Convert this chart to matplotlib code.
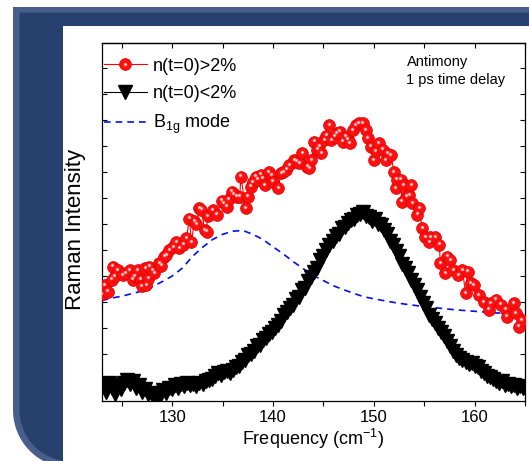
import numpy as np
import matplotlib
matplotlib.use('Agg')
import matplotlib.pyplot as plt
import matplotlib.transforms as mtransforms
from matplotlib.patches import Polygon, Rectangle
from matplotlib.lines import Line2D
from matplotlib.legend_handler import HandlerTuple
from matplotlib.ticker import MultipleLocator

plt.rcParams['font.family'] = ['Liberation Sans', 'DejaVu Sans']
plt.rcParams['mathtext.fontset'] = 'custom'
plt.rcParams['mathtext.rm'] = 'Liberation Sans'
plt.rcParams['mathtext.it'] = 'Liberation Sans:italic'

# ---- data (arbitrary intensity units) ----
red_x = [123.0, 123.3, 123.6, 124.0, 124.1, 124.3, 124.6, 125.1, 125.4, 125.8,
         126.1, 126.3, 126.6, 126.9, 127.0, 127.3, 127.4, 127.6, 127.7, 128.0,
         128.2, 128.7, 128.9, 129.2, 129.4, 129.7, 130.1, 130.4, 130.7, 131.1,
         131.4, 131.7, 131.9, 132.2, 132.4, 132.7, 132.9, 133.2, 133.4, 133.5,
         134.0, 134.4, 134.9, 135.1, 135.4, 135.6, 135.9, 136.1, 136.4, 136.7,
         136.8, 137.3, 137.5, 137.8, 138.0, 138.3, 138.5, 138.8, 139.0, 139.2,
         139.6, 139.9, 140.0, 140.5, 140.8, 141.0, 141.3, 141.6, 142.1, 142.3,
         142.6, 142.9, 143.4, 143.6, 143.8, 144.1, 144.4, 144.6, 144.8, 145.1,
         145.3, 145.6, 145.8, 146.1, 146.3, 146.6, 146.9, 147.2, 147.4, 147.6,
         147.9, 148.2, 148.5, 148.9, 149.2, 149.4, 149.7, 150.0, 150.2, 150.5,
         150.9, 151.2, 151.4, 151.7, 152.0, 152.2, 152.3, 152.7, 152.8, 153.0,
         153.2, 153.5, 153.7, 153.8, 154.3, 154.5, 154.8, 155.1, 155.5, 155.6,
         156.1, 156.5, 156.6, 157.1, 157.3, 157.6, 157.9, 158.4, 158.8, 159.1,
         159.3, 159.6, 159.9, 160.4, 160.9, 161.4, 161.6, 162.1, 162.6, 163.1,
         163.2, 163.9, 164.1, 164.4, 164.7]
red_y = [3.30, 3.65, 3.40, 3.85, 4.36, 4.00, 4.23, 4.04, 4.10, 4.23,
         3.85, 4.00, 4.23, 3.85, 3.60, 4.30, 3.65, 3.90, 4.36, 4.20,
         4.10, 4.50, 4.40, 4.74, 4.80, 5.00, 5.10, 5.30, 5.07, 5.20,
         5.45, 6.20, 5.30, 6.10, 6.00, 6.60, 6.55, 5.77, 5.70, 6.30,
         6.54, 6.35, 6.90, 6.80, 6.67, 6.95, 7.24, 7.15, 7.05, 7.05,
         7.82, 6.60, 7.05, 7.43, 7.60, 7.82, 7.70, 7.90, 7.75, 7.50,
         8.00, 7.85, 7.63, 7.37, 7.95, 8.00, 8.08, 8.27, 8.46, 8.40,
         8.33, 8.72, 8.20, 8.14, 8.46, 9.17, 8.85, 9.00, 8.72, 9.23,
         9.40, 9.80, 9.23, 9.36, 9.50, 9.55, 9.17, 9.36, 9.25, 9.10,
         9.60, 9.80, 9.87, 9.87, 9.60, 9.30, 8.97, 8.46, 8.80, 9.10,
         8.85, 8.46, 8.70, 8.65, 8.00, 7.37, 7.70, 7.70, 6.86, 7.50,
         7.05, 7.10, 7.50, 6.80, 6.35, 6.60, 5.83, 5.50, 5.30, 5.50,
         5.50, 5.20, 4.50, 4.10, 4.74, 4.60, 4.23, 4.04, 4.23, 3.33,
         4.17, 3.72, 3.65, 3.27, 3.00, 2.70, 2.96, 3.08, 2.90, 2.70,
         2.43, 2.95, 2.56, 2.05, 2.30]

blk_x = [123.1, 123.4, 123.7, 124.0, 124.3, 124.6, 124.9, 125.2, 125.5, 125.8,
         126.1, 126.4, 126.7, 127.0, 127.3, 127.6, 127.9, 128.2, 128.5, 128.8,
         129.1, 129.4, 129.7, 130.0, 130.3, 130.6, 130.9, 131.2, 131.5, 131.8,
         132.1, 132.4, 132.7, 133.0, 133.3, 133.6, 133.9, 134.2, 134.5, 134.8,
         135.1, 135.4, 135.7, 136.0, 136.3, 136.6, 136.9, 137.2, 137.5, 137.8,
         138.1, 138.4, 138.7, 139.0, 139.3, 139.6, 139.9, 140.2, 140.5, 140.8,
         141.1, 141.4, 141.7, 142.0, 142.3, 142.6, 142.9, 143.2, 143.5, 143.8,
         144.1, 144.4, 144.7, 145.0, 145.3, 145.6, 145.9, 146.2, 146.5, 146.8,
         147.1, 147.4, 147.7, 148.0, 148.3, 148.6, 148.9, 149.2, 149.5, 149.8,
         150.1, 150.4, 150.7, 151.0, 151.3, 151.6, 151.9, 152.2, 152.5, 152.8,
         153.1, 153.4, 153.7, 154.0, 154.3, 154.6, 154.9, 155.2, 155.5, 155.8,
         156.1, 156.4, 156.7, 157.0, 157.3, 157.6, 157.9, 158.2, 158.5, 158.8,
         159.1, 159.4, 159.7, 160.0, 160.3, 160.6, 160.9, 161.2, 161.5, 161.8,
         162.1, 162.4, 162.7, 163.0, 163.3, 163.6, 163.9, 164.2, 164.5, 164.8]
blk_y = [-0.20, -0.45, -0.10, -0.30, -0.55, -0.20, -0.35, -0.10, 0.00, -0.15,
         -0.05, -0.30, -0.20, -0.45, -0.35, -0.55, -0.50, -0.65, -0.55, -0.60,
         -0.40, -0.50, -0.30, -0.35, -0.20, -0.30, -0.15, -0.25, -0.10, -0.20,
         -0.15, -0.25, -0.10, -0.15, -0.05, 0.00, 0.05, 0.15, 0.25, 0.20,
         0.30, 0.35, 0.25, 0.40, 0.50, 0.55, 0.70, 0.75, 0.95, 1.00,
         1.10, 1.30, 1.35, 1.55, 1.60, 1.75, 1.85, 2.00, 2.10, 2.25,
         2.50, 2.60, 2.75, 2.90, 3.10, 3.20, 3.45, 3.55, 3.80, 3.95,
         4.15, 4.30, 4.60, 4.75, 5.00, 5.20, 5.35, 5.55, 5.60, 5.85,
         5.90, 6.05, 6.15, 6.20, 6.35, 6.40, 6.45, 6.30, 6.25, 6.10,
         6.20, 6.00, 5.95, 5.75, 5.60, 5.35, 5.20, 4.95, 4.75, 4.45,
         4.30, 4.10, 3.85, 3.65, 3.45, 3.20, 2.95, 2.75, 2.50, 2.35,
         2.20, 2.00, 1.85, 1.70, 1.50, 1.30, 1.10, 0.95, 0.85, 0.75,
         0.70, 0.60, 0.65, 0.55, 0.50, 0.35, 0.25, 0.15, 0.10, 0.05,
         -0.05, -0.10, -0.05, -0.20, -0.15, -0.25, -0.20, -0.30, -0.25, -0.30]

b1g_x = [123, 124, 125, 126, 127, 128, 129, 130, 131, 132, 133, 134, 135, 136,
         137, 138, 139, 140, 141, 142, 143, 144, 145, 146, 147, 148, 149, 150,
         151, 152, 153, 154, 155, 156, 157, 158, 159, 160, 161, 162, 163, 164, 165]
b1g_y = [3.05, 3.15, 3.22, 3.32, 3.42, 3.58, 3.78, 4.00, 4.30, 4.75, 5.10, 5.40,
         5.60, 5.72, 5.75, 5.60, 5.40, 5.12, 4.85, 4.55, 4.28, 4.02, 3.82, 3.62,
         3.47, 3.33, 3.20, 3.12, 3.05, 2.98, 2.92, 2.87, 2.82, 2.78, 2.74, 2.70,
         2.67, 2.64, 2.61, 2.58, 2.56, 2.54, 2.52]

labels = ['n(t=0)>2%', 'n(t=0)<2%', r'B$_{\mathrm{1g}}$ mode']

W, H = 529, 461
fig = plt.figure(figsize=(W / 100, H / 100), dpi=100)
fig.patch.set_facecolor('white')

# ---- slide-like background ----
bg = fig.add_axes([0, 0, 1, 1])
bg.set_xlim(0, W)
bg.set_ylim(H, 0)
bg.axis('off')

def frame_shape(left, top, cx, cy, r):
    th = np.linspace(np.pi / 2, np.pi, 40)
    arc = np.column_stack([cx + r * np.cos(th), cy + r * np.sin(th)])
    pts = [(left, top), (W + 20, top), (W + 20, cy + r), (cx, cy + r)]
    return np.vstack([pts, arc])

bg.add_patch(Polygon(frame_shape(13, 7, 71, 410, 58), closed=True,
                     facecolor='#4a5e8c', edgecolor='none'))
bg.add_patch(Polygon(frame_shape(19.5, 12.5, 71, 410, 51.5), closed=True,
                     facecolor='#26416d', edgecolor='none'))
bg.add_patch(Rectangle((63, 26), W, H, facecolor='white', edgecolor='none'))

# ---- main plot ----
ax = fig.add_axes([0.1923, 0.1308, 0.8001, 0.7753])

ax.plot(b1g_x, b1g_y, '--', color='#0010ee', lw=1.2, dashes=(4, 3), zorder=2)

ax.plot(blk_x, blk_y, '-', color='black', lw=0.8, marker='v', ms=10,
        mfc='black', mec='black', zorder=3)

red_face = '#ff1010'
ax.plot(red_x, red_y, '-', color='red', lw=0.8, marker='o', ms=8.5,
        mfc=red_face, mec='#dd0000', mew=0.5, zorder=4)
shine = ax.transData + mtransforms.ScaledTranslation(-0.4 / 72, 1.0 / 72,
                                                      fig.dpi_scale_trans)
ax.plot(red_x, red_y, 'o', ms=2.6, color='#ff8080', mec='none',
        transform=shine, zorder=5)
ax.plot(red_x, red_y, 'o', ms=1.3, color='#ffeeee', mec='none',
        transform=shine, zorder=6)

ax.set_xlim(123, 165)
ax.set_ylim(-0.8, 12.95)

ax.xaxis.set_major_locator(MultipleLocator(10))
ax.xaxis.set_minor_locator(MultipleLocator(5))
ax.tick_params(axis='x', which='both', direction='out', length=3.5, width=0.8,
               labelsize=12, pad=3, top=False)
ax.yaxis.set_major_locator(MultipleLocator(1))
ax.tick_params(axis='y', which='both', direction='in', length=3.5, width=0.8,
               left=True, right=True, labelleft=False)
for s in ax.spines.values():
    s.set_linewidth(0.9)

top = ax.secondary_xaxis('top')
top.xaxis.set_major_locator(MultipleLocator(5))
top.tick_params(direction='in', length=3.5, width=0.8, labeltop=False)
top.spines['top'].set_linewidth(0.9)

ax.set_xlabel('Frequency (cm$^{\\mathrm{-1}}$)', fontsize=13)
ax.xaxis.set_label_coords(0.5, -0.073)
ax.set_ylabel('Raman Intensity', fontsize=16)
ax.yaxis.set_label_coords(-0.036, 0.478)

ax.text(0.72, 0.967, 'Antimony\n1 ps time delay', transform=ax.transAxes,
        fontsize=10.5, va='top', ha='left', linespacing=1.4)

h_red = (Line2D([], [], color='red', lw=0.8, marker='o', ms=8.5,
                mfc=red_face, mec='#dd0000', mew=0.5),
         Line2D([], [], ls='none', marker='o', ms=2.6, color='#ff8080', mec='none'),
         Line2D([], [], ls='none', marker='o', ms=1.3, color='#ffeeee', mec='none'))
h_blk = Line2D([], [], color='black', lw=0.8, marker='v', ms=10)
h_blue = Line2D([], [], color='#0010ee', ls='--', lw=1.2, dashes=(4, 3))
ax.legend([h_red, h_blk, h_blue], labels,
          handler_map={tuple: HandlerTuple(ndivide=1, pad=0)},
          loc='upper left', bbox_to_anchor=(0, 0.965), frameon=False,
          fontsize=13, handlelength=2.4, handletextpad=0.35, borderaxespad=0,
          borderpad=0.1, labelspacing=0.6, numpoints=1)

fig.savefig('out.png', dpi=100)
